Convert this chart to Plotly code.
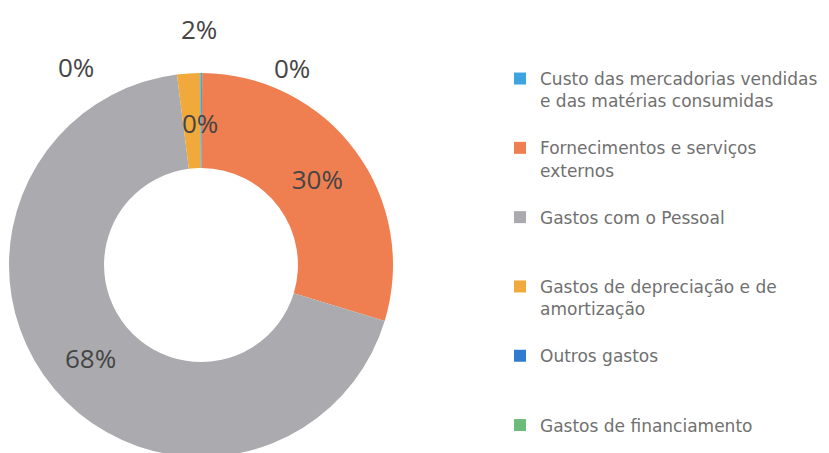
import plotly.graph_objects as go

# Rubricas de gastos (ordem do gráfico, sentido horário a partir das 12h)
categorias = [
    "Custo das mercadorias vendidas e das matérias consumidas",
    "Fornecimentos e serviços externos",
    "Gastos com o Pessoal",
    "Gastos de depreciação e de amortização",
    "Outros gastos",
    "Gastos de financiamento",
]
valores = [0.1, 29.6, 68.3, 1.9, 0.05, 0.05]
cores = ["#3DA4DF", "#EF7F50", "#ABABAF", "#F2A93B", "#2E7BD0", "#6CBB7A"]

# texto da legenda com quebras de linha (cada entrada ocupa 3 linhas, como no Excel)
legenda = [
    "Custo das mercadorias vendidas<br>e das matérias consumidas<br> ",
    "Fornecimentos e serviços<br>externos<br> ",
    "Gastos com o Pessoal<br> <br> ",
    "Gastos de depreciação e de<br>amortização<br> ",
    "Outros gastos<br> <br> ",
    "Gastos de financiamento",
]

total = sum(valores)
pct = [f"{round(v / total * 100):.0f}%" for v in valores]

# rótulos das fatias grandes ficam dentro do anel; os pequenos vão em anotações
posicoes = ["none", "inside", "inside", "none", "none", "none"]

# a página tem 8px de margem no body; a figura passa um pouco do fundo
# da janela para o anel ficar cortado como na referência
OFF = 8
W, H = 829 - OFF, 453 - OFF + 4
cx, cy, r = 201 - OFF, 265 - OFF, 192

fig = go.Figure(go.Pie(
    labels=legenda,
    values=valores,
    sort=False,
    direction="clockwise",
    rotation=0,
    hole=0.505,
    marker=dict(colors=cores, line=dict(width=0)),
    text=pct,
    textinfo="text",
    textposition=posicoes,
    insidetextorientation="horizontal",
    textfont=dict(family="Open Sans", size=26, color="#454545"),
    domain=dict(x=[(cx - r) / W, (cx + r) / W], y=[0, 2 * r / H]),
))

# posições dos rótulos das fatias pequenas (px na imagem de referência)
pos_rotulos = {0: (200, 123), 3: (199, 29), 4: (76, 67), 5: (292, 68)}
for i, (px_, py_) in pos_rotulos.items():
    fig.add_annotation(
        x=(px_ - OFF) / W, y=1 - (py_ - OFF) / H, xref="paper", yref="paper",
        xanchor="center", yanchor="middle",
        text=pct[i], showarrow=False,
        font=dict(family="Open Sans", size=26, color="#454545"),
    )

fig.update_layout(
    width=W, height=H,
    margin=dict(l=0, r=0, t=0, b=0),
    paper_bgcolor="white",
    plot_bgcolor="white",
    showlegend=True,
    legend=dict(
        x=(540 - OFF - 40) / W, y=1 - (61 - OFF) / H,
        xanchor="left", yanchor="top",
        valign="top", itemwidth=30,
        font=dict(family="DejaVu Sans", size=17, color="#707070"),
    ),
)

fig.write_html("out.html")
